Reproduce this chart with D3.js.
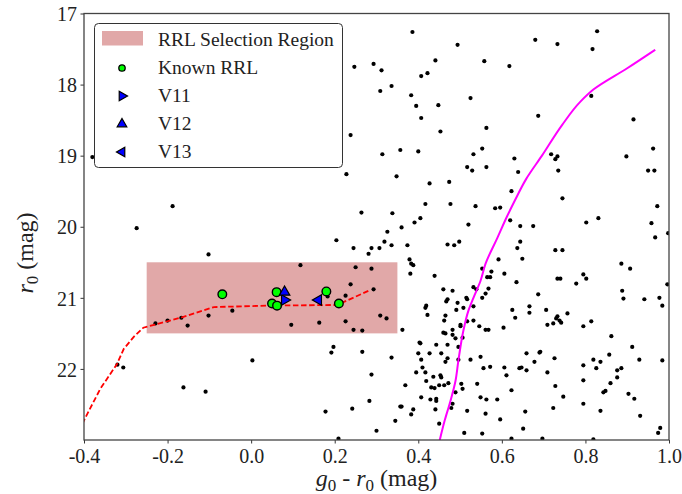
<!DOCTYPE html>
<html>
<head>
<meta charset="utf-8">
<script src="https://cdn.jsdelivr.net/npm/d3@7"></script>
<style>
  body { margin: 0; background: #fff; }
  text { font-family: "Liberation Serif", "Times New Roman", serif; }
</style>
</head>
<body>
<script>
// field stars, g0 - r0 and r0
var fieldColor = [-0.380,-0.274,-0.188,-0.102,0.118,0.204,0.245,0.281,0.288,0.307,0.319,0.336,0.326,0.374,0.250,0.288,0.379,0.383,0.388,0.381,
  -0.229,-0.200,-0.167,-0.152,-0.102,-0.045,0.096,0.163,0.226,0.245,0.183,0.226,0.238,0.293,0.309,0.324,0.362,0.197,0.192,-0.320,
  -0.306,-0.162,-0.109,0.003,0.178,0.242,0.266,0.247,0.238,0.228,0.314,0.357,0.400,0.348,0.264,0.338,0.391,0.405,0.360,0.439,
  0.209,0.300,0.283,0.345,0.357,0.288,0.336,0.266,0.386,0.494,0.293,0.312,0.441,0.558,0.618,0.680,0.733,0.828,0.817,0.407,
  0.422,0.336,0.309,0.383,0.395,0.448,0.525,0.407,0.453,0.563,0.687,0.814,0.915,0.532,0.553,0.630,0.718,0.733,0.728,0.735,
  0.898,0.962,0.950,0.965,0.517,0.529,0.563,0.639,0.427,0.474,0.623,0.745,0.417,0.477,0.537,0.584,0.596,0.972,0.620,0.644,
  0.675,0.802,0.831,0.958,0.967,0.998,0.520,0.470,0.486,0.498,0.644,0.637,0.649,0.728,0.745,0.592,0.886,0.907,0.553,0.575,
  0.565,0.572,0.606,0.635,0.733,0.740,0.778,0.795,0.802,0.996,0.532,0.539,0.568,0.561,0.553,0.460,0.482,0.687,0.888,0.891,
  0.941,0.977,0.984,0.470,0.467,0.515,0.517,0.494,0.508,0.532,0.417,0.419,0.422,0.491,0.625,0.666,0.666,0.706,0.757,0.465,
  0.462,0.730,0.733,0.738,0.742,0.632,0.532,0.517,0.501,0.501,0.482,0.546,0.561,0.568,0.604,0.709,0.723,0.795,0.814,0.862,
  0.460,0.465,0.482,0.506,0.489,0.403,0.405,0.443,0.470,0.496,0.400,0.427,0.455,0.470,0.407,0.465,0.496,0.525,0.549,0.659,
  0.690,0.678,0.410,0.556,0.572,0.606,0.642,0.647,0.395,0.417,0.436,0.453,0.455,0.450,0.462,0.439,0.431,0.419,0.369,0.472,
  0.503,0.506,0.541,0.611,0.709,0.659,0.489,0.407,0.429,0.443,0.443,0.549,0.563,0.589,0.623,0.482,0.479,0.441,0.388,0.383,
  0.360,0.517,0.561,0.596,0.656,0.450,0.510,0.553,0.651,0.623,0.697,0.912,0.929,0.984,0.692,0.726,0.795,0.819,0.826,0.836,
  0.857,0.876,0.886,0.876,0.795,0.860,0.848,0.843,0.903,0.917,0.728,0.747,0.723,0.795,0.836,0.931,0.979,0.974,0.819];
var fieldMag = [19.02,20.02,19.71,20.39,20.54,20.19,20.30,20.38,20.30,20.30,20.21,20.26,20.07,20.26,20.57,20.59,20.46,20.52,20.54,20.66,
  21.36,21.32,21.28,21.39,21.25,21.18,21.38,21.35,21.33,21.45,20.98,20.97,20.81,20.88,21.25,21.29,21.45,21.69,21.77,21.94,
  21.98,22.26,22.32,21.88,22.60,22.56,21.46,17.75,18.71,19.26,18.98,18.92,18.94,19.29,19.80,19.81,19.94,19.88,20.01,20.69,
  22.98,22.87,22.45,22.73,22.53,22.08,21.84,21.76,17.26,17.44,17.71,17.80,17.66,17.67,17.74,17.37,17.43,17.25,17.50,17.88,
  17.84,18.02,18.09,18.15,18.30,18.29,18.19,18.47,18.66,18.61,18.44,18.16,18.49,18.98,18.90,19.04,18.98,19.01,19.05,19.21,
  19.01,18.90,19.21,19.21,19.16,19.21,19.16,19.23,19.39,19.37,19.50,19.60,19.68,19.68,19.71,19.74,19.73,19.71,19.91,19.99,
  19.99,19.94,19.88,19.95,20.15,20.09,19.97,20.25,20.26,20.21,20.21,20.30,20.45,20.33,20.33,20.46,20.52,20.59,20.59,20.63,
  20.71,20.71,20.66,20.78,20.73,20.73,20.80,20.67,20.73,20.81,20.85,20.88,20.87,20.94,21.00,20.88,20.90,20.95,20.90,21.01,
  21.02,21.00,21.11,21.02,21.05,21.00,21.02,21.07,21.14,21.12,21.14,21.11,21.24,21.17,21.17,21.12,21.21,21.17,21.22,21.25,
  21.32,21.29,21.26,21.32,21.35,21.28,21.32,21.33,21.38,21.40,21.45,21.40,21.45,21.45,21.42,21.38,21.36,21.40,21.33,21.54,
  21.49,21.50,21.52,21.56,21.57,21.63,21.64,21.66,21.66,21.69,21.78,21.78,21.78,21.85,21.87,21.90,21.87,21.87,21.83,21.78,
  21.77,21.90,21.98,21.99,21.97,21.98,21.99,21.98,22.05,22.05,22.11,22.09,22.12,22.23,22.23,22.27,22.26,22.17,22.23,22.20,
  22.21,22.28,22.21,22.09,22.05,22.02,22.33,22.40,22.43,22.42,22.45,22.40,22.43,22.43,22.30,22.49,22.55,22.57,22.57,22.64,
  22.53,22.59,22.63,22.71,22.60,22.77,22.90,22.91,22.84,22.98,22.98,21.69,21.87,21.88,21.76,21.85,21.95,21.87,21.99,21.90,
  21.80,22.02,21.99,22.12,22.16,22.20,22.31,22.33,22.35,22.42,22.24,22.39,22.55,22.49,22.59,22.66,22.83,22.90,22.99];

// isochrone (magenta), bright to faint
var isoColor = [0.967,0.900,0.819,0.788,0.744,0.696,0.658,0.632,0.612,0.589,0.561,0.549,0.532,0.520,0.508,0.496,0.489,0.477,0.463,0.451];
var isoMag = [17.51,17.77,18.07,18.24,18.57,19.00,19.33,19.62,19.86,20.16,20.52,20.76,21.00,21.18,21.46,21.88,22.17,22.45,22.73,23.01];

// horizontal branch (red dashed)
var hbColor = [-0.420,-0.398,-0.361,-0.321,-0.305,-0.281,-0.258,-0.169,-0.089,0.038,0.206,0.285];
var hbMag = [22.98,22.70,22.28,21.93,21.72,21.55,21.42,21.28,21.13,21.11,21.10,20.89];

// selection box
var boxColor = [-0.25, 0.35];
var boxMag = [20.5, 21.5];

// known RR Lyrae
var rrlColor = [-0.069, 0.061, 0.050, 0.062, 0.180, 0.210];
var rrlMag = [20.95, 20.92, 21.08, 21.11, 20.91, 21.08];

// new variables
var varNames = ['V11', 'V12', 'V13'];
var varColor = [0.080, 0.080, 0.161];
var varMag = [21.03, 20.92, 21.03];
var varRotate = [90, 0, -90];

var xTicks = [-0.4, -0.2, 0.0, 0.2, 0.4, 0.6, 0.8, 1.0];
var yTicks = [17, 18, 19, 20, 21, 22];

var width = 682,
    height = 494;
var padL = 84, padR = 669, padT = 13.5, padB = 440;

var svg = d3.select('body').append('svg')
    .attr('width', width)
    .attr('height', height);

var x = d3.scaleLinear().domain([-0.4, 1.0]).range([padL, padR]);
var y = d3.scaleLinear().domain([17, 23]).range([padT, padB]);

svg.append('clipPath').attr('id', 'plot')
  .append('rect')
    .attr('x', padL).attr('y', padT)
    .attr('width', padR - padL).attr('height', padB - padT);

var plot = svg.append('g').attr('clip-path', 'url(#plot)');

plot.append('rect')
    .attr('x', x(boxColor[0]))
    .attr('y', y(boxMag[0]))
    .attr('width', x(boxColor[1]) - x(boxColor[0]))
    .attr('height', y(boxMag[1]) - y(boxMag[0]))
    .style('fill', '#e1a8a8');

var field = fieldColor.map(function(c, i){ return {c: c, m: fieldMag[i]}; });
plot.selectAll('circle.star')
    .data(field)
  .enter().append('circle')
    .attr('class', 'star')
    .attr('cx', function(d){ return x(d.c); })
    .attr('cy', function(d){ return y(d.m); })
    .attr('r', 2.1)
    .style('fill', 'black');

var line = d3.line()
    .x(function(d){ return x(d[0]); })
    .y(function(d){ return y(d[1]); });

plot.append('path')
    .datum(isoColor.map(function(c, i){ return [c, isoMag[i]]; }))
    .attr('d', line.curve(d3.curveMonotoneY))
    .style('fill', 'none')
    .style('stroke', '#ff00ff')
    .style('stroke-width', 2);

plot.append('path')
    .datum(hbColor.map(function(c, i){ return [c, hbMag[i]]; }))
    .attr('d', line.curve(d3.curveLinear))
    .style('fill', 'none')
    .style('stroke', '#ff0000')
    .style('stroke-width', 1.8)
    .style('stroke-dasharray', '5.5,2.6');

plot.selectAll('circle.rrl')
    .data(rrlColor.map(function(c, i){ return {c: c, m: rrlMag[i]}; }))
  .enter().append('circle')
    .attr('class', 'rrl')
    .attr('cx', function(d){ return x(d.c); })
    .attr('cy', function(d){ return y(d.m); })
    .attr('r', 4.3)
    .style('fill', '#00ff00')
    .style('stroke', 'black')
    .style('stroke-width', 1.4);

var tri = d3.symbol().type(d3.symbolTriangle).size(48);
plot.selectAll('path.var')
    .data(varNames.map(function(n, i){ return {c: varColor[i], m: varMag[i], r: varRotate[i]}; }))
  .enter().append('path')
    .attr('class', 'var')
    .attr('d', tri)
    .attr('transform', function(d){ return 'translate(' + x(d.c) + ',' + y(d.m) + ') rotate(' + d.r + ')'; })
    .style('fill', '#0000ff')
    .style('stroke', 'black')
    .style('stroke-width', 1.2);

// axes
var xAxis = svg.append('g')
    .attr('transform', 'translate(0,' + padB + ')')
    .call(d3.axisBottom(x).tickValues(xTicks).tickSize(3.5).tickPadding(5.5)
      .tickFormat(function(d){ return d.toFixed(1); }));
var yAxis = svg.append('g')
    .attr('transform', 'translate(' + padL + ',0)')
    .call(d3.axisLeft(y).tickValues(yTicks).tickSize(3.5).tickPadding(3.5)
      .tickFormat(function(d){ return d; }));

[xAxis, yAxis].forEach(function(a){
  a.select('.domain').remove();
  a.selectAll('text')
    .attr('font-family', '"Liberation Serif", serif')
    .attr('font-size', 20)
    .style('fill', '#222');
  a.selectAll('line').style('stroke', '#333');
});
yAxis.selectAll('text').attr('dy', '0.36em');

svg.append('rect')
    .attr('x', padL).attr('y', padT)
    .attr('width', padR - padL).attr('height', padB - padT)
    .style('fill', 'none')
    .style('stroke', '#444')
    .style('stroke-width', 1.3);

// axis labels
var xl = svg.append('text')
    .attr('x', (padL + padR) / 2)
    .attr('y', 486)
    .attr('text-anchor', 'middle')
    .style('font-size', '24px')
    .style('fill', '#222');
xl.append('tspan').style('font-style', 'italic').text('g');
xl.append('tspan').attr('dy', 5).style('font-size', '17px').text('0');
xl.append('tspan').attr('dy', -5).text(' - ');
xl.append('tspan').style('font-style', 'italic').text('r');
xl.append('tspan').attr('dy', 5).style('font-size', '17px').text('0');
xl.append('tspan').attr('dy', -5).text(' (mag)');

var yl = svg.append('text')
    .attr('transform', 'translate(33,253) rotate(-90)')
    .attr('text-anchor', 'middle')
    .style('font-size', '24px')
    .style('fill', '#222');
yl.append('tspan').style('font-style', 'italic').text('r');
yl.append('tspan').attr('dy', 5).style('font-size', '17px').text('0');
yl.append('tspan').attr('dy', -5).text(' (mag)');

// legend
var legend = svg.append('g');
legend.append('rect')
    .attr('x', 94.5).attr('y', 23.5)
    .attr('width', 248).attr('height', 144)
    .attr('rx', 4)
    .style('fill', 'white')
    .style('fill-opacity', 0.85)
    .style('stroke', '#333')
    .style('stroke-width', 1);

var legendLabels = ['RRL Selection Region', 'Known RRL'].concat(varNames);
legend.selectAll('text.lab')
    .data(legendLabels)
  .enter().append('text')
    .attr('class', 'lab')
    .attr('x', 158)
    .attr('y', function(d, i){ return 45.5 + i * 28; })
    .style('font-size', '19.5px')
    .style('fill', '#222')
    .text(function(d){ return d; });

legend.append('rect')
    .attr('x', 102).attr('y', 31)
    .attr('width', 41).attr('height', 14.5)
    .style('fill', '#e1a8a8');
legend.append('circle')
    .attr('cx', 122).attr('cy', 68)
    .attr('r', 3.2)
    .style('fill', '#00ff00')
    .style('stroke', 'black')
    .style('stroke-width', 1.3);
legend.selectAll('path.lv')
    .data(varRotate)
  .enter().append('path')
    .attr('class', 'lv')
    .attr('d', d3.symbol().type(d3.symbolTriangle).size(40))
    .attr('transform', function(d, i){ return 'translate(122,' + (96 + i * 28) + ') rotate(' + d + ')'; })
    .style('fill', '#0000ff')
    .style('stroke', 'black')
    .style('stroke-width', 1.2);
</script>
</body>
</html>
